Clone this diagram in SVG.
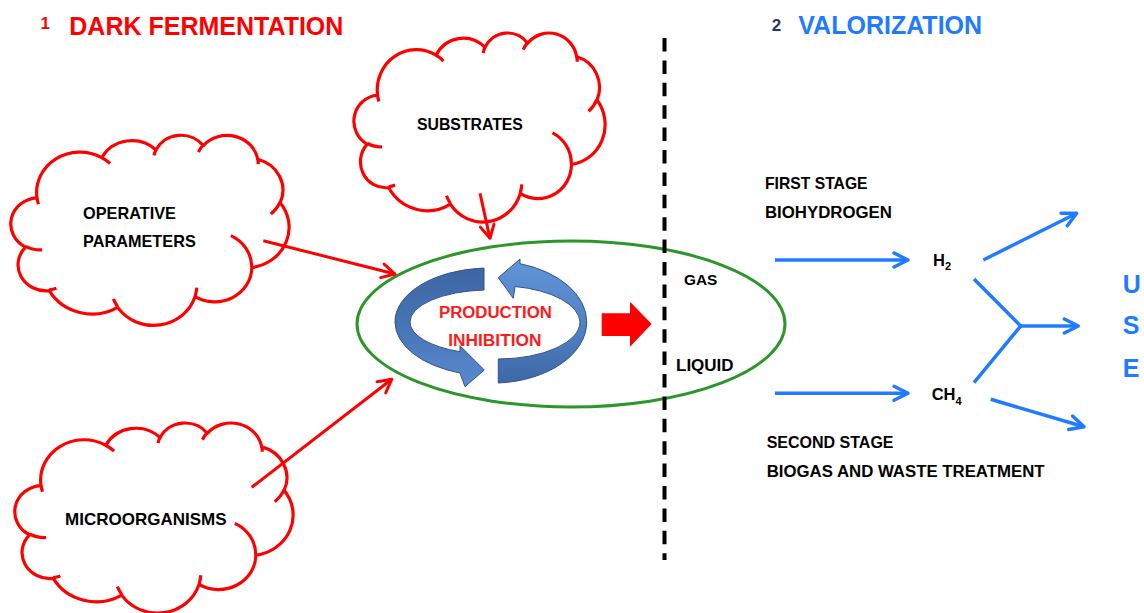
<svg xmlns="http://www.w3.org/2000/svg" width="1144" height="613" viewBox="0 0 1144 613">
<style>
.cloud{fill:#fff;stroke:#ff0000;stroke-width:3.2;stroke-linejoin:round}
.cloud path{vector-effect:non-scaling-stroke}
.tick{fill:none;stroke:#ff0000;stroke-width:3.2;stroke-linecap:butt}
.lbl{font-family:"Liberation Sans",Arial,sans-serif;font-weight:bold;fill:#000}
.red{stroke:#ff0000;stroke-width:3;fill:none}
.blue{stroke:#1f7bff;stroke-width:3.5;fill:none}
.title{font-family:"Liberation Sans",Arial,sans-serif;font-weight:bold}
</style>
<defs>
<marker id="ahRed" markerUnits="userSpaceOnUse" viewBox="-20 -12 24 24" refX="0" refY="0" markerWidth="24" markerHeight="24" orient="auto">
<path d="M-13,-7 L0,0 L-13,7" fill="none" stroke="#ff0000" stroke-width="3" stroke-linecap="round" stroke-linejoin="round"/>
</marker>
<marker id="ahBlue" markerUnits="userSpaceOnUse" viewBox="-20 -12 24 24" refX="0" refY="0" markerWidth="24" markerHeight="24" orient="auto">
<path d="M-14,-7 L0,0 L-14,7" fill="none" stroke="#1f7bff" stroke-width="3.5" stroke-linecap="round" stroke-linejoin="round"/>
</marker>
<linearGradient id="gL" x1="0" y1="0" x2="0" y2="1">
<stop offset="0" stop-color="#3d66a3"/><stop offset="0.5" stop-color="#4775b5"/><stop offset="1" stop-color="#5a8bd0"/>
</linearGradient>
<linearGradient id="gR" x1="0" y1="0" x2="0" y2="1">
<stop offset="0" stop-color="#6095d8"/><stop offset="0.5" stop-color="#5283c6"/><stop offset="1" stop-color="#3e68a6"/>
</linearGradient>
</defs>
<rect width="1144" height="613" fill="#fff"/>

<g id="titles">
<text class="title" x="40.5" y="29.3" font-size="17" fill="#ff0000">1</text>
<text class="title" x="69.3" y="35" font-size="25" fill="#ff0000">DARK FERMENTATION</text>
<text class="title" x="771.7" y="30.7" font-size="17" fill="#1f3864">2</text>
<text class="title" x="798.3" y="34.3" font-size="25" fill="#1f7bff">VALORIZATION</text>
</g>

<g id="node-substrates">
<g class="cloud" transform="translate(355,32.4) scale(2.5,1.89)">
<path d="M9.03,33.26 A15.63,21.27 0 0 1 32.42,12.04 A12.345,16.82 0 0 1 51.98,7.94 A10.10,13.76 0 0 1 69.06,5.74 A11.24,15.27 0 0 1 88.70,12.90 A12.345,16.84 0 0 1 96.80,35.78 A15.68,21.34 0 0 1 86.58,69.91 A13.39,18.21 0 0 1 66.10,85.21 A15.63,21.33 0 0 1 38.15,90.89 A17.87,24.41 0 0 1 13.44,82.11 A10.09,13.70 0 0 1 4.90,59.15 A10.06,13.76 0 0 1 9.03,33.26 Z"/>
<path class="tick" d="M10.86,60.59 A10.06,13.76 0 0 1 5.00,58.75 M16.04,80.78 A10.09,13.70 0 0 1 13.47,81.67 M38.14,90.49 A15.63,21.33 0 0 1 36.59,86.45 M66.73,80.44 A15.63,21.33 0 0 1 66.11,84.86 M79.00,53.13 A13.39,18.21 0 0 1 86.53,69.65 M96.75,35.54 A12.345,16.84 0 0 1 93.40,41.74 M88.71,12.56 A11.24,15.27 0 0 1 88.89,15.49 M67.31,9.15 A11.24,15.27 0 0 1 69.03,5.41 M51.25,10.93 A10.10,13.76 0 0 1 52.08,7.71 M32.41,12.02 A15.63,21.27 0 0 1 35.41,15.14 M9.55,36.55 A15.63,21.27 0 0 1 9.03,33.26"/>
</g>
<text class="lbl" x="417" y="130" font-size="15.8">SUBSTRATES</text>
</g>

<g id="node-operative">
<g class="cloud" transform="translate(12,134.7) scale(2.77,1.9)">
<path d="M9.03,33.26 A15.63,21.27 0 0 1 32.42,12.04 A12.345,16.82 0 0 1 51.98,7.94 A10.10,13.76 0 0 1 69.06,5.74 A11.24,15.27 0 0 1 88.70,12.90 A12.345,16.84 0 0 1 96.80,35.78 A15.68,21.34 0 0 1 86.58,69.91 A13.39,18.21 0 0 1 66.10,85.21 A15.63,21.33 0 0 1 38.15,90.89 A17.87,24.41 0 0 1 13.44,82.11 A10.09,13.70 0 0 1 4.90,59.15 A10.06,13.76 0 0 1 9.03,33.26 Z"/>
<path class="tick" d="M10.86,60.59 A10.06,13.76 0 0 1 5.00,58.75 M16.04,80.78 A10.09,13.70 0 0 1 13.47,81.67 M38.14,90.49 A15.63,21.33 0 0 1 36.59,86.45 M66.73,80.44 A15.63,21.33 0 0 1 66.11,84.86 M79.00,53.13 A13.39,18.21 0 0 1 86.53,69.65 M96.75,35.54 A12.345,16.84 0 0 1 93.40,41.74 M88.71,12.56 A11.24,15.27 0 0 1 88.89,15.49 M67.31,9.15 A11.24,15.27 0 0 1 69.03,5.41 M51.25,10.93 A10.10,13.76 0 0 1 52.08,7.71 M32.41,12.02 A15.63,21.27 0 0 1 35.41,15.14 M9.55,36.55 A15.63,21.27 0 0 1 9.03,33.26"/>
</g>
<text class="lbl" x="83" y="219.3" font-size="16.3">OPERATIVE</text>
<text class="lbl" x="83" y="246.7" font-size="16.3">PARAMETERS</text>
</g>

<g id="node-microorganisms">
<g class="cloud" transform="translate(16,422.4) scale(2.77,1.9)">
<path d="M9.03,33.26 A15.63,21.27 0 0 1 32.42,12.04 A12.345,16.82 0 0 1 51.98,7.94 A10.10,13.76 0 0 1 69.06,5.74 A11.24,15.27 0 0 1 88.70,12.90 A12.345,16.84 0 0 1 96.80,35.78 A15.68,21.34 0 0 1 86.58,69.91 A13.39,18.21 0 0 1 66.10,85.21 A15.63,21.33 0 0 1 38.15,90.89 A17.87,24.41 0 0 1 13.44,82.11 A10.09,13.70 0 0 1 4.90,59.15 A10.06,13.76 0 0 1 9.03,33.26 Z"/>
<path class="tick" d="M10.86,60.59 A10.06,13.76 0 0 1 5.00,58.75 M16.04,80.78 A10.09,13.70 0 0 1 13.47,81.67 M38.14,90.49 A15.63,21.33 0 0 1 36.59,86.45 M66.73,80.44 A15.63,21.33 0 0 1 66.11,84.86 M79.00,53.13 A13.39,18.21 0 0 1 86.53,69.65 M96.75,35.54 A12.345,16.84 0 0 1 93.40,41.74 M88.71,12.56 A11.24,15.27 0 0 1 88.89,15.49 M67.31,9.15 A11.24,15.27 0 0 1 69.03,5.41 M51.25,10.93 A10.10,13.76 0 0 1 52.08,7.71 M32.41,12.02 A15.63,21.27 0 0 1 35.41,15.14 M9.55,36.55 A15.63,21.27 0 0 1 9.03,33.26"/>
</g>
<text class="lbl" x="65" y="525" font-size="17">MICROORGANISMS</text>
</g>

<g id="node-reactor">
<ellipse cx="571" cy="324" rx="214" ry="83" fill="none" stroke="#2c962c" stroke-width="3"/>
<path d="M484,268 A95,54 0 0 0 395,322 A95,54 0 0 0 460,373 L465,386.7 L484.3,370 L460,345.7 L460,351.7 A80,32 0 0 1 410,322 A80,32 0 0 1 484,290 Z" fill="url(#gL)" stroke="#2f528f" stroke-width="1"/>
<path d="M498.3,383 A94.7,61 0 0 0 586.7,322 A94.7,61 0 0 0 520,263.7 L520,259 L498.3,277.7 L513.3,298.3 L515,286.5 A82,37 0 0 1 580,322 A82,37 0 0 1 498.3,359 Z" fill="url(#gR)" stroke="#2f528f" stroke-width="1"/>
<text class="title" x="439" y="318.3" font-size="16.8" fill="#ff1a1a">PRODUCTION</text>
<text class="title" x="448.3" y="345.7" font-size="17.3" fill="#ff1a1a">INHIBITION</text>
<polygon points="601.7,313.3 630,313.3 630,301.7 651.7,324 630,346.7 630,336 601.7,336" fill="#ff0000"/>
</g>

<g id="divider">
<line x1="664.5" y1="38" x2="664.5" y2="560" stroke="#000" stroke-width="4" stroke-dasharray="13.5 8.9"/>
</g>

<g id="labels-right">
<text class="lbl" x="684" y="285" font-size="15.4">GAS</text>
<text class="lbl" x="676" y="370.7" font-size="17">LIQUID</text>
<text class="lbl" x="765" y="189" font-size="15.7">FIRST STAGE</text>
<text class="lbl" x="765" y="217.7" font-size="16.8">BIOHYDROGEN</text>
<text class="lbl" x="766.7" y="448.3" font-size="16">SECOND STAGE</text>
<text class="lbl" x="766.7" y="476.7" font-size="16.8">BIOGAS AND WASTE TREATMENT</text>
</g>

<g id="node-h2">
<text class="lbl" x="933" y="265.7" font-size="16.5">H<tspan font-size="11" dy="4.5">2</tspan></text>
</g>
<g id="node-ch4">
<text class="lbl" x="931.7" y="400" font-size="16.5">CH<tspan font-size="11" dy="5">4</tspan></text>
</g>
<g id="node-use">
<text class="title" x="1122.7" y="293" font-size="25" fill="#1f7bff">U</text>
<text class="title" x="1122.7" y="334" font-size="25" fill="#1f7bff">S</text>
<text class="title" x="1122.7" y="377" font-size="25" fill="#1f7bff">E</text>
</g>

<g id="connectors">
<line class="red" x1="263.3" y1="240.7" x2="395" y2="274" marker-end="url(#ahRed)"/>
<line class="red" x1="251.7" y1="487.3" x2="391.7" y2="379.3" marker-end="url(#ahRed)"/>
<line class="red" x1="480" y1="193.3" x2="490" y2="238.3" marker-end="url(#ahRed)"/>
<line class="blue" x1="775" y1="260" x2="908" y2="260" marker-end="url(#ahBlue)"/>
<line class="blue" x1="775" y1="393.3" x2="908" y2="393.3" marker-end="url(#ahBlue)"/>
<line class="blue" x1="983.3" y1="260" x2="1076.7" y2="213.3" marker-end="url(#ahBlue)"/>
<polyline class="blue" points="974,279 1020.7,326 974,382.7"/>
<line class="blue" x1="1020.7" y1="326" x2="1078.3" y2="326" marker-end="url(#ahBlue)"/>
<line class="blue" x1="990.7" y1="399.3" x2="1084" y2="426.7" marker-end="url(#ahBlue)"/>
</g>
</svg>
